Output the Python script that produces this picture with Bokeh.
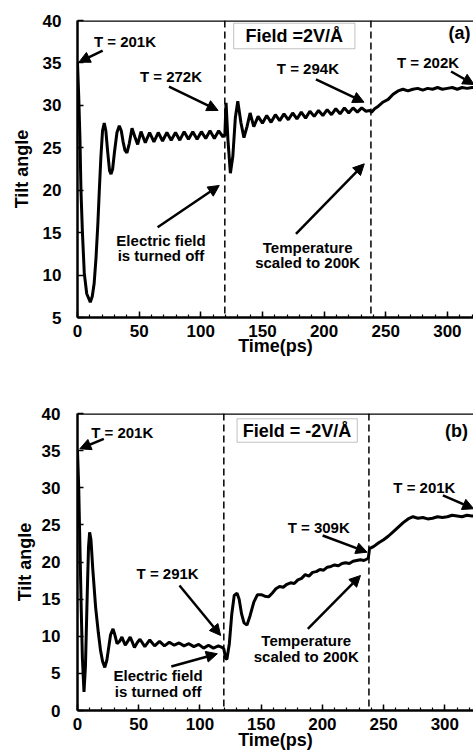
from bokeh.plotting import figure
from bokeh.layouts import column
from bokeh.models import (Span, Label, Arrow, NormalHead, BoxAnnotation,
                          SingleIntervalTicker)
from bokeh.embed import file_html
from bokeh.resources import INLINE

# ---------------- data ----------------
time_a = [0, 1, 2, 2.8, 4, 5.5, 7.5, 10.4, 12, 13.5, 15, 16.5, 17.7, 19, 20.3, 21.7,
          23, 24.5, 26, 27.2, 28.5, 30, 32, 33.9, 35.5, 37, 38.5, 40.1, 42, 44.2,
          46.5, 48.8, 51.5, 55, 58.5, 62, 65.5, 69, 72.5, 76, 79.5, 83, 86.5, 90,
          93.5, 97, 100.5, 104, 107.5, 111, 114.5, 118,
          119.5, 120.5, 122, 124, 126, 128, 130, 132.5, 135, 137.5, 140, 143,
          146.5, 150, 153.5, 157, 160.5, 164, 167.5, 171, 174.5, 178, 181.5, 185,
          188.5, 192, 195.5, 199, 202.5, 206, 209.5, 213, 216.5, 220, 223.5, 227,
          230.5, 234, 237,
          238.5, 241, 244, 248, 252, 256, 260, 264, 268, 272, 276, 280, 284, 288,
          292, 296, 300, 304, 308, 312, 316, 320, 324]
tilt_a = [35.0, 31.0, 26.0, 20.0, 15.0, 10.2, 7.8, 6.8, 7.5, 9.0, 12.0, 16.0, 20.0, 24.0, 27.0, 27.9,
          27.0, 24.5, 22.3, 21.9, 22.5, 24.5, 26.8, 27.6, 27.0, 25.7, 24.7, 24.4, 25.5, 27.3,
          26.3, 25.4, 26.9, 25.6, 26.8, 25.7, 26.8, 25.8, 26.8, 25.9, 26.8, 25.9, 26.9, 26.0,
          26.9, 26.0, 26.9, 26.1, 27.0, 26.1, 27.0, 26.3,
          26.5, 30.3, 26.0, 22.0, 24.0, 28.5, 30.5, 28.0, 26.2, 27.5, 29.1, 27.5,
          28.7, 27.9, 28.8, 28.0, 28.9, 28.2, 29.0, 28.3, 29.1, 28.4, 29.2, 28.5,
          29.3, 28.7, 29.4, 28.8, 29.5, 28.9, 29.6, 29.0, 29.7, 29.1, 29.7, 29.2,
          29.7, 29.3, 29.4,
          29.2, 29.6, 29.9, 30.4, 30.7, 31.3, 31.7, 31.9, 31.7, 31.9, 32.0, 31.8, 32.0, 31.9,
          32.1, 31.9, 32.0, 32.1, 31.9, 32.1, 32.0, 32.1, 32.1]

time_b = [0, 1, 2, 3, 4, 5.3, 6.5, 8, 9, 9.9, 11, 12.5, 14.8, 17, 18.8, 20.5, 22.3, 24,
          25.5, 27, 29, 30.5, 32.3, 34.3, 36.3, 37.7, 39, 41, 43, 44.8, 46.5, 49, 51,
          55, 59, 63, 67, 71, 75, 79, 83, 87, 91, 95, 99, 103, 107, 111, 115, 118,
          119.5, 121, 122, 124, 126, 128, 130.3, 132, 134, 136, 138.4, 141, 144, 147,
          150, 153, 156, 159, 162, 165, 168, 171, 174, 177, 180, 183, 186, 189, 192,
          195, 198, 201, 204, 207, 210, 213, 216, 219, 222, 225, 228, 231, 234, 237.5,
          238.5, 242, 246, 250, 254, 258, 262, 266, 270, 274, 278, 282, 286, 290, 294,
          298, 302, 306, 310, 314, 318, 322, 325]
tilt_b = [35.0, 30.0, 22.0, 14.0, 7.0, 2.5, 6.0, 16.0, 22.0, 24.0, 23.0, 19.0, 13.9, 10.5, 8.1, 6.6, 5.8, 6.8,
          8.5, 10.2, 11.0, 10.2, 9.0, 9.3, 9.9, 9.3, 8.8, 9.3, 9.9, 9.2, 8.5, 9.2, 9.6,
          8.6, 9.5, 8.7, 9.3, 8.7, 9.2, 8.8, 9.1, 8.7, 9.0, 8.6, 8.9, 8.4, 8.8, 8.4, 8.7, 8.5,
          8.3, 7.0, 6.9, 9.0, 13.0, 15.5, 15.8, 15.0, 13.0, 11.8, 11.5, 12.8, 14.6, 15.6,
          15.6, 15.4, 15.3, 15.8, 16.4, 16.7, 16.6, 17.0, 17.2, 17.1, 17.6, 17.8, 18.3, 18.1, 18.6,
          18.7, 19.0, 18.9, 19.3, 19.4, 19.6, 19.5, 19.8, 19.9, 19.8, 20.1, 20.2, 20.3, 20.2, 20.5,
          21.8, 22.1, 22.6, 23.0, 23.5, 24.1, 24.7, 25.3, 25.8, 26.1, 25.9, 26.0, 25.8, 25.9, 26.1,
          26.0, 26.1, 26.3, 26.2, 26.1, 26.3, 26.2, 26.2]

event_times = [119.5, 238]
yticks_interval = 5
xticks_interval = 50

FONT = "Liberation Sans"


def style(p, ylab_standoff, ylab_title_standoff, xtitle_standoff):
    p.grid.visible = False
    p.outline_line_color = None
    p.background_fill_color = "white"
    p.border_fill_color = "white"
    for ax in (p.xaxis[0], p.yaxis[0]):
        ax.axis_line_width = 2.5
        ax.axis_line_color = "black"
        ax.major_tick_in = 6
        ax.major_tick_out = 0
        ax.minor_tick_in = 3
        ax.minor_tick_out = 0
        ax.major_tick_line_width = 1.5
        ax.minor_tick_line_width = 1.2
        ax.major_label_text_font = FONT
        ax.major_label_text_font_style = "bold"
        ax.major_label_text_font_size = "17px"
        ax.major_label_text_color = "black"
        ax.axis_label_text_font = FONT
        ax.axis_label_text_font_style = "bold"
        ax.axis_label_text_font_size = "18px"
        ax.axis_label_text_color = "black"
    p.xaxis[0].ticker = SingleIntervalTicker(interval=xticks_interval, num_minor_ticks=5)
    p.yaxis[0].ticker = SingleIntervalTicker(interval=yticks_interval, num_minor_ticks=0)
    p.xaxis[0].major_label_standoff = 7
    p.xaxis[0].axis_label_standoff = xtitle_standoff
    p.yaxis[0].major_label_standoff = ylab_standoff
    p.yaxis[0].axis_label_standoff = ylab_title_standoff
    p.xaxis[0].axis_label = "Time(ps)"
    p.yaxis[0].axis_label = "Tilt angle"


def lab(p, x, y, text, size="15px"):
    p.add_layout(Label(x=x, y=y, text=text, text_align="center", text_baseline="middle",
                       text_font=FONT, text_font_style="bold", text_font_size=size,
                       text_color="black"))


def arr(p, x0, y0, x1, y1):
    p.add_layout(Arrow(end=NormalHead(size=11, fill_color="black", line_color="black"),
                       x_start=x0, y_start=y0, x_end=x1, y_end=y1,
                       line_color="black", line_width=2.5))


# ---------------- panel (a) ----------------
pa = figure(width=473, height=370, x_range=(0, 321.2), y_range=(5, 40),
            output_backend="svg", toolbar_location=None,
            min_border_left=77, min_border_right=0, min_border_top=20, min_border_bottom=53)
style(pa, 16, 8, -4)
pa.add_layout(Span(location=40, dimension="width", line_color="black", line_width=2.5))
for t in event_times:
    pa.add_layout(Span(location=t, dimension="height", line_color="black",
                       line_width=1.5, line_dash="7 4"))
pa.line(time_a, tilt_a, line_color="black", line_width=3)
pa.add_layout(BoxAnnotation(left=126.7, right=225, bottom=36.67, top=39.68,
                            fill_color="white", fill_alpha=1, line_color="#333333",
                            line_width=1))
lab(pa, 175.8, 38.17, "Field =2V/Å", "18px")
lab(pa, 309.8, 38.47, "(a)", "18px")
lab(pa, 38.5, 37.47, "T = 201K")
arr(pa, 20.4, 36.46, 1.2, 35.09)
lab(pa, 75.8, 33.4, "T = 272K")
arr(pa, 74.2, 32.2, 114, 29.4)
lab(pa, 186.9, 34.34, "T = 294K")
arr(pa, 193.4, 33.05, 232.4, 30.37)
lab(pa, 284.3, 35.05, "T = 202K")
arr(pa, 303, 33.99, 321.6, 32.46)
lab(pa, 67.7, 14.07, "Electric field")
lab(pa, 67.7, 12.3, "is turned off")
arr(pa, 65, 15.64, 115, 20.56)
lab(pa, 186.7, 13.29, "Temperature")
lab(pa, 186.7, 11.52, "scaled to 200K")
arr(pa, 177.2, 14.86, 232.6, 23.11)

# ---------------- panel (b) ----------------
pb = figure(width=473, height=385, x_range=(0, 323.4), y_range=(0, 40),
            output_backend="svg", toolbar_location=None,
            min_border_left=72, min_border_right=0, min_border_top=43, min_border_bottom=45)
style(pb, 17, 4, -3)
pb.add_layout(Span(location=40, dimension="width", line_color="black", line_width=2.5))
for t in event_times:
    pb.add_layout(Span(location=t, dimension="height", line_color="black",
                       line_width=1.5, line_dash="7 4"))
pb.line(time_b, tilt_b, line_color="black", line_width=3)
pb.add_layout(BoxAnnotation(left=130.3, right=228.5, bottom=36.13, top=39.29,
                            fill_color="white", fill_alpha=1, line_color="#333333",
                            line_width=1))
lab(pb, 179.3, 37.71, "Field = -2V/Å", "18px")
lab(pb, 309.5, 37.58, "(b)", "18px")
lab(pb, 36.5, 37.48, "T = 201K")
arr(pb, 21.5, 36.59, 1.9, 35.25)
lab(pb, 73.6, 18.45, "T = 291K")
arr(pb, 83.3, 16.83, 116.9, 10.1)
lab(pb, 65.8, 4.71, "Electric field")
lab(pb, 65.8, 2.6, "is turned off")
arr(pb, 76.6, 5.93, 114.2, 7.64)
lab(pb, 186.8, 9.43, "Temperature")
lab(pb, 186.8, 7.27, "scaled to 200K")
arr(pb, 188.1, 11.0, 231.1, 18.18)
lab(pb, 197, 24.69, "T = 309K")
arr(pb, 200.2, 23.57, 236.5, 21.32)
lab(pb, 283.3, 30.07, "T = 201K")
arr(pb, 298.4, 28.96, 323.6, 27.17)

layout = column(pa, pb, spacing=0)
open("out.html", "w").write(file_html(layout, INLINE))
